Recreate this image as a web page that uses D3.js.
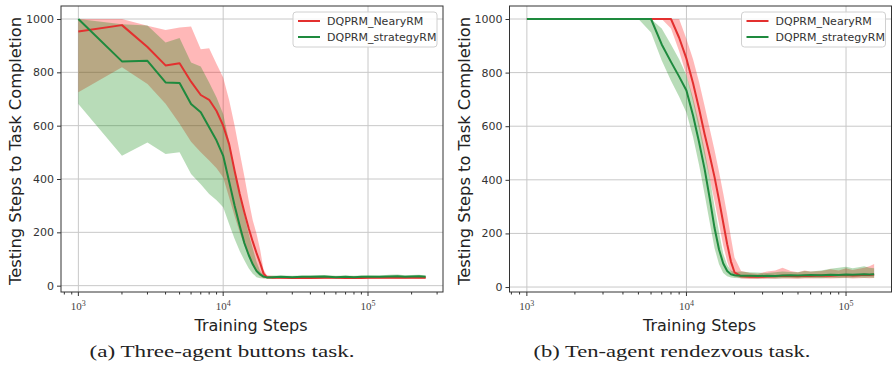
<!DOCTYPE html>
<html>
<head>
<meta charset="utf-8">
<script src="https://cdn.jsdelivr.net/npm/d3@7"></script>
<style>
  body { margin: 0; background: #fff; }
  svg text { font-family: "DejaVu Sans", sans-serif; }
</style>
</head>
<body>
<svg id="fig" width="895" height="368"></svg>
<script>
// ----- data: (a) three-agent buttons task -----
var stepsA = [1000, 2000, 3000, 4000, 5000, 6000, 7000, 8000, 9000, 10000,
  11000, 12000, 13000, 14000, 15000, 16000, 17000, 18000, 19000, 20000,
  22000, 25000, 30000, 35000, 40000, 50000, 60000, 70000, 80000, 90000,
  100000, 120000, 140000, 160000, 180000, 200000, 225000, 250000];
var nearyMeanA = [953, 977, 895, 826, 834, 765, 715, 697, 655, 600, 530, 430, 345, 275, 215, 165, 122, 85, 45, 32,
  30, 30, 29, 30, 29, 30, 30, 29, 30, 29, 30, 30, 31, 30, 30, 31, 30, 30];
var nearyHighA = [1000, 1000, 975, 959, 968, 972, 887, 890, 831, 781, 695, 600, 500, 410, 320, 245, 195, 135, 60, 40,
  36, 34, 33, 34, 33, 34, 34, 33, 34, 33, 34, 35, 36, 35, 35, 36, 36, 35];
var nearyLowA = [725, 819, 756, 682, 607, 540, 500, 469, 440, 406, 330, 260, 200, 150, 110, 75, 50, 35, 28, 27,
  26, 26, 25, 26, 25, 26, 26, 25, 26, 25, 26, 26, 27, 26, 26, 27, 26, 26];
var strategyMeanA = [1000, 841, 843, 762, 760, 681, 650, 594, 544, 487, 390, 300, 225, 160, 115, 80, 55, 42, 34, 31,
  32, 33, 32, 33, 33, 34, 32, 33, 32, 33, 33, 33, 34, 35, 33, 34, 35, 33];
var strategyHighA = [1000, 980, 976, 912, 929, 837, 822, 762, 706, 644, 540, 430, 340, 265, 195, 140, 90, 55, 40, 35,
  38, 38, 37, 38, 38, 40, 37, 38, 37, 38, 39, 38, 41, 42, 39, 40, 41, 38];
var strategyLowA = [681, 487, 537, 494, 500, 419, 380, 344, 320, 294, 230, 175, 130, 95, 65, 45, 32, 28, 27, 27,
  28, 28, 28, 29, 28, 29, 28, 28, 28, 28, 28, 29, 29, 29, 28, 29, 30, 28];

// ----- data: (b) ten-agent rendezvous task -----
var stepsB = [1000, 2000, 3000, 4000, 5000, 6000, 7000, 8000, 9000, 10000,
  11000, 12000, 13000, 14000, 15000, 16000, 17000, 18000, 19000, 20000,
  22000, 25000, 28000, 32000, 36000, 40000, 45000, 50000, 55000, 60000,
  70000, 80000, 90000, 100000, 110000, 120000, 130000, 140000, 150000];
var nearyMeanB = [1000, 1000, 1000, 1000, 1000, 1000, 1000, 1000, 930, 852, 760, 665, 570, 490, 410, 325, 240, 160, 95, 55,
  40, 38, 38, 39, 40, 42, 41, 40, 42, 41, 43, 42, 44, 45, 43, 44, 46, 45, 47];
var nearyHighB = [1000, 1000, 1000, 1000, 1000, 1000, 1000, 1000, 1000, 925, 850, 765, 675, 590, 510, 430, 350, 270, 185, 110,
  60, 52, 50, 58, 62, 72, 60, 55, 62, 58, 60, 66, 62, 70, 64, 68, 72, 78, 86];
var nearyLowB = [1000, 1000, 1000, 1000, 1000, 1000, 1000, 965, 880, 790, 690, 590, 490, 405, 320, 235, 155, 95, 55, 40,
  32, 30, 30, 31, 31, 32, 31, 31, 32, 32, 33, 32, 33, 34, 32, 33, 34, 33, 34];
var strategyMeanB = [1000, 1000, 1000, 1000, 1000, 1000, 905, 840, 785, 733, 640, 540, 440, 330, 220, 140, 88, 60, 48, 44,
  42, 42, 41, 42, 41, 43, 44, 43, 44, 45, 44, 46, 45, 47, 46, 47, 48, 47, 48];
var strategyHighB = [1000, 1000, 1000, 1000, 1000, 1000, 965, 905, 850, 790, 705, 610, 510, 410, 300, 205, 125, 82, 62, 56,
  58, 55, 54, 52, 55, 58, 56, 55, 60, 58, 62, 68, 72, 76, 70, 74, 78, 72, 70];
var strategyLowB = [1000, 1000, 1000, 1000, 1000, 950, 845, 770, 710, 650, 560, 455, 345, 240, 145, 85, 52, 40, 36, 34,
  33, 33, 32, 33, 32, 33, 34, 33, 34, 34, 33, 35, 34, 35, 35, 36, 35, 36, 35];

var yTicks = [0, 200, 400, 600, 800, 1000];
var xTicks = [1e3, 1e4, 1e5];
var seriesNames = ['DQPRM_NearyRM', 'DQPRM_strategyRM'];
var captions = ['(a) Three-agent buttons task.', '(b) Ten-agent rendezvous task.'];

var lineColors = ['#e3302f', '#1e8a3e'];
var fillColors = ['#ff0000', '#008000'];

var svg = d3.select('#fig');

function drawPanel(p) {
  var g = svg.append('g');

  // matplotlib-like 5% margins on the data extent
  var lx = d3.extent(p.steps).map(Math.log10);
  var mx = (lx[1] - lx[0]) * 0.05;
  var x = d3.scaleLog()
    .domain([Math.pow(10, lx[0] - mx), Math.pow(10, lx[1] + mx)])
    .range([p.left, p.right]);

  var all = d3.merge(p.series.map(function(s) { return s.low.concat(s.high); }));
  var ey = d3.extent(all);
  var my = (ey[1] - ey[0]) * 0.05;
  var y = d3.scaleLinear()
    .domain([ey[0] - my, ey[1] + my])
    .range([p.bottom, p.top]);

  // grid
  g.selectAll('line.gx').data(xTicks).enter().append('line')
    .attr('x1', function(d) { return x(d); }).attr('x2', function(d) { return x(d); })
    .attr('y1', p.top).attr('y2', p.bottom)
    .attr('stroke', '#c8c8c8').attr('stroke-width', 1);
  g.selectAll('line.gy').data(yTicks).enter().append('line')
    .attr('x1', p.left).attr('x2', p.right)
    .attr('y1', function(d) { return y(d); }).attr('y2', function(d) { return y(d); })
    .attr('stroke', '#c8c8c8').attr('stroke-width', 1);

  // bands
  var area = d3.area()
    .x(function(d) { return x(d.s); })
    .y0(function(d) { return y(d.lo); })
    .y1(function(d) { return y(d.hi); });
  var line = d3.line()
    .x(function(d) { return x(d.s); })
    .y(function(d) { return y(d.m); });

  var rows = p.series.map(function(s) {
    return p.steps.map(function(st, i) {
      return { s: st, m: s.mean[i], lo: s.low[i], hi: s.high[i] };
    });
  });

  rows.forEach(function(r, i) {
    g.append('path').datum(r)
      .attr('d', area)
      .attr('fill', fillColors[i])
      .attr('fill-opacity', 0.28)
      .attr('stroke', 'none');
  });
  rows.forEach(function(r, i) {
    g.append('path').datum(r)
      .attr('d', line)
      .attr('fill', 'none')
      .attr('stroke', lineColors[i])
      .attr('stroke-width', 2)
      .attr('stroke-linejoin', 'round');
  });

  // frame
  g.append('rect')
    .attr('x', p.left).attr('y', p.top)
    .attr('width', p.right - p.left).attr('height', p.bottom - p.top)
    .attr('fill', 'none').attr('stroke', '#333').attr('stroke-width', 1);

  // y axis
  var yAxis = d3.axisLeft(y).tickValues(yTicks).tickFormat(d3.format('d')).tickSize(4).tickPadding(3);
  var ya = g.append('g').attr('transform', 'translate(' + p.left + ',0)').call(yAxis);
  ya.select('.domain').remove();
  ya.selectAll('text').attr('font-size', 11).attr('fill', '#333')
    .style('font-family', '"DejaVu Sans", sans-serif');
  ya.selectAll('line').attr('stroke', '#333');

  // x axis, major + minor log ticks
  var minor = x.ticks().filter(function(d) { return xTicks.indexOf(d) < 0; });
  var xa = g.append('g').attr('transform', 'translate(0,' + p.bottom + ')');
  xa.selectAll('line.minor').data(minor).enter().append('line')
    .attr('x1', function(d) { return x(d); }).attr('x2', function(d) { return x(d); })
    .attr('y1', 0).attr('y2', 2.5).attr('stroke', '#333');
  xa.selectAll('line.major').data(xTicks).enter().append('line')
    .attr('x1', function(d) { return x(d); }).attr('x2', function(d) { return x(d); })
    .attr('y1', 0).attr('y2', 4).attr('stroke', '#333');
  var lab = xa.selectAll('text.tl').data(xTicks).enter().append('text')
    .attr('x', function(d) { return x(d); })
    .attr('y', 18)
    .attr('text-anchor', 'middle')
    .attr('fill', '#444')
    .style('font-family', '"Liberation Serif", serif')
    .attr('font-size', 11);
  lab.append('tspan').text('10');
  lab.append('tspan').attr('dy', -4).attr('font-size', 8)
    .text(function(d) { return Math.round(Math.log10(d)); });

  // axis titles
  g.append('text')
    .attr('x', (p.left + p.right) / 2 - 1).attr('y', 331)
    .attr('text-anchor', 'middle')
    .attr('font-size', 16).attr('fill', '#222')
    .attr('textLength', 113).attr('lengthAdjust', 'spacingAndGlyphs')
    .text('Training Steps');
  g.append('text')
    .attr('transform', 'translate(' + (p.left - 40) + ',' + ((p.top + p.bottom) / 2 + 2) + ') rotate(-90)')
    .attr('text-anchor', 'middle')
    .attr('font-size', 16).attr('fill', '#222')
    .attr('textLength', 268).attr('lengthAdjust', 'spacingAndGlyphs')
    .text('Testing Steps to Task Completion');

  // caption
  svg.append('text')
    .attr('x', p.capX).attr('y', 357)
    .attr('text-anchor', 'middle')
    .style('font-family', '"Liberation Serif", serif')
    .attr('font-size', 17).attr('fill', '#222')
    .attr('textLength', p.capW).attr('lengthAdjust', 'spacingAndGlyphs')
    .text(p.caption);

  // legend
  var lg = g.append('g').attr('transform', 'translate(' + (p.right - 150) + ',' + (p.top + 6) + ')');
  lg.append('rect')
    .attr('x', 0).attr('y', 0).attr('width', 144).attr('height', 35).attr('rx', 3)
    .attr('fill', '#fff').attr('fill-opacity', 0.85)
    .attr('stroke', '#d0d0d0');
  seriesNames.forEach(function(name, i) {
    var yy = 9 + i * 16;
    lg.append('line')
      .attr('x1', 5).attr('x2', 27).attr('y1', yy).attr('y2', yy)
      .attr('stroke', lineColors[i]).attr('stroke-width', 2);
    lg.append('text')
      .attr('x', 34).attr('y', yy + 4)
      .attr('font-size', 11).attr('fill', '#333')
      .text(name);
  });
}

drawPanel({
  left: 61, right: 443, top: 6, bottom: 292,
  steps: stepsA,
  series: [
    { mean: nearyMeanA, low: nearyLowA, high: nearyHighA },
    { mean: strategyMeanA, low: strategyLowA, high: strategyHighA }
  ],
  caption: captions[0], capX: 222, capW: 265
});

drawPanel({
  left: 509.5, right: 891.5, top: 6, bottom: 292,
  steps: stepsB,
  series: [
    { mean: nearyMeanB, low: nearyLowB, high: nearyHighB },
    { mean: strategyMeanB, low: strategyLowB, high: strategyHighB }
  ],
  caption: captions[1], capX: 672, capW: 277
});
</script>
</body>
</html>
